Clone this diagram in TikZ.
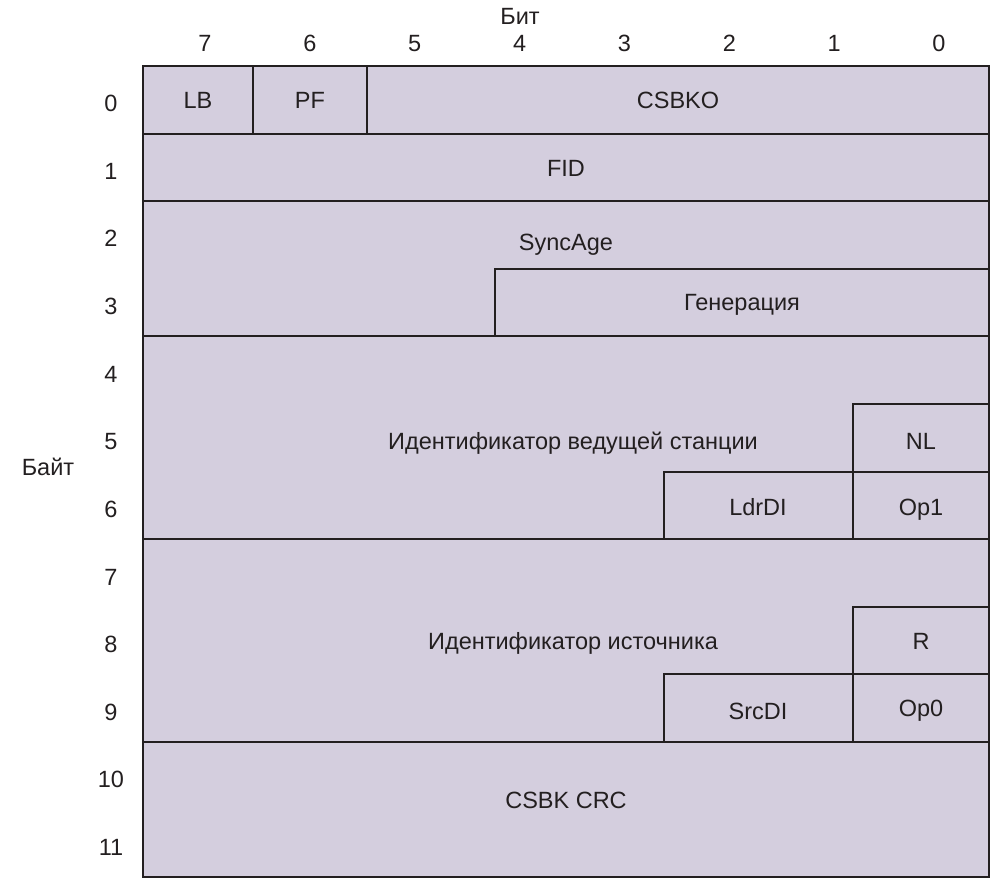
\documentclass[tikz,border=0pt]{standalone}
\usepackage{fontspec}
\setmainfont{Liberation Sans}
\usepackage{tikz}
\usetikzlibrary{positioning}
\definecolor{fieldfill}{RGB}{212,206,222}
\definecolor{inkgray}{RGB}{35,31,32}

\begin{document}
\begin{tikzpicture}[x=1pt, y=-1pt, line width=2pt,
  font=\fontsize{23.5}{28}\selectfont, text=inkgray,
  field/.style={fill=fieldfill, draw=inkgray},
  lbl/.style={anchor=base, inner sep=0pt}]

  \useasboundingbox (0,0) rectangle (995,882);

  % Headings
  \node[lbl] (bit) at (520,25) {Бит};
  \foreach \b in {0,...,7}{
    \node[lbl] (bit\b) at ({205+104.86*(7-\b)},52) {\b};
  }
  \node[lbl] (byte) at (48,475) {Байт};
  \foreach \r in {0,...,11}{
    \node[lbl] (byte\r) at (111,{66+67.6*\r+33.8+12}) {\r};
  }

  % Byte 0
  \draw[field] (143,66) rectangle (253,133.6);
  \draw[field] (253,66) rectangle (367,133.6);
  \draw[field] (367,66) rectangle (989,133.6);
  \node[lbl] (lb) at (198,108.5) {LB};
  \node[lbl] (pf) at (310,108.5) {PF};
  \node[lbl] (csbko) at (678,108.5) {CSBKO};

  % Byte 1
  \draw[field] (143,133.6) rectangle (989,201.2);
  \node[lbl] (fid) at (566,177) {FID};

  % Bytes 2-3
  \draw[field] (143,201.2) rectangle (989,336.4);
  \draw[field] (495,268.8) rectangle (989,336.4);
  \node[lbl] (syncage) at (566,251) {SyncAge};
  \node[lbl] (gen) at (742,311) {Генерация};

  % Bytes 4-6
  \draw[field] (143,336.4) rectangle (989,539.2);
  \draw[field] (853,404) rectangle (989,471.6);
  \draw[field] (664,471.6) rectangle (853,539.2);
  \draw[field] (853,471.6) rectangle (989,539.2);
  \node[lbl] (ldrid) at (573,449) {Идентификатор ведущей станции};
  \node[lbl] (nl) at (921,449) {NL};
  \node[lbl] (ldrdi) at (758,515) {LdrDI};
  \node[lbl] (op1) at (921,515) {Op1};

  % Bytes 7-9
  \draw[field] (143,539.2) rectangle (989,742);
  \draw[field] (853,606.8) rectangle (989,674.4);
  \draw[field] (664,674.4) rectangle (853,742);
  \draw[field] (853,674.4) rectangle (989,742);
  \node[lbl] (srcid) at (573,649) {Идентификатор источника};
  \node[lbl] (r) at (921,649) {R};
  \node[lbl] (srcdi) at (758,719) {SrcDI};
  \node[lbl] (op0) at (921,716) {Op0};

  % Bytes 10-11
  \draw[field] (143,742) rectangle (989,877.2);
  \node[lbl] (crc) at (566,808) {CSBK CRC};

\end{tikzpicture}
\end{document}
